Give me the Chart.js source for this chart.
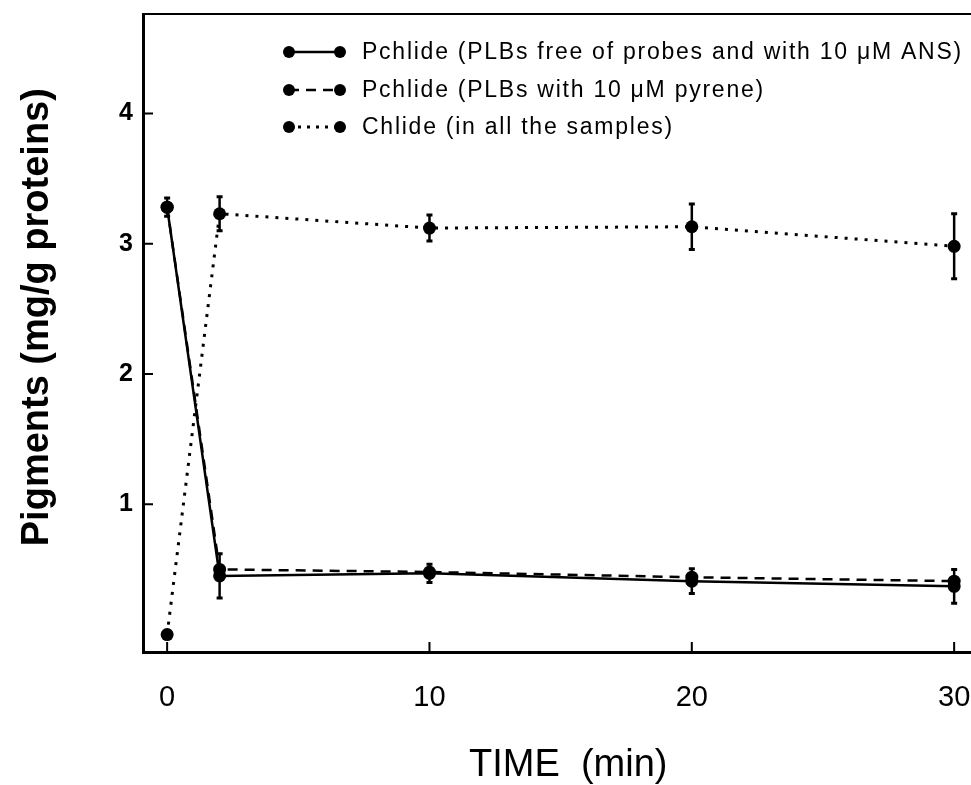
<!DOCTYPE html>
<html>
<head>
<meta charset="utf-8">
<script src="https://cdn.jsdelivr.net/npm/chart.js@4.4.1/dist/chart.umd.min.js"></script>
<style>
  html, body { margin: 0; padding: 0; overflow: hidden; background: #fff; }
  #wrap { width: 1000px; height: 785px; }
</style>
</head>
<body>
<div id="wrap"><canvas id="chart" width="1000" height="785"></canvas></div>
<script>
// time points (min)
const times = [0, 2, 10, 20, 30];

// Pchlide, PLBs free of probes and with ANS (solid)
const pchlideFree = [3.28, 0.45, 0.47, 0.41, 0.37];
const pchlideFreeErr = [0.07, 0.17, 0.07, 0.095, 0.13];

// Pchlide, PLBs with pyrene (dashed)
const pchlidePyrene = [3.28, 0.50, 0.48, 0.44, 0.41];

// Chlide, all samples (dotted)
const chlide = [0.0, 3.23, 3.12, 3.13, 2.98];
const chlideErr = [0, 0.13, 0.10, 0.175, 0.25];

const xTicks = [0, 10, 20, 30];
const yTicks = [1, 2, 3, 4];

const legendLabels = [
    "Pchlide (PLBs free of probes and with 10 \u03BCM ANS)",
    "Pchlide (PLBs with 10 \u03BCM pyrene)",
    "Chlide (in all the samples)"
];

const FONT = "'Liberation Sans', Arial, Helvetica, sans-serif";

function toPoints(values) {
    return times.map((t, i) => ({ x: t, y: values[i] }));
}

function makeSet(label, values, dash, errs) {
    return {
        label: label,
        data: toPoints(values),
        errors: errs,
        borderColor: '#000',
        backgroundColor: '#000',
        borderWidth: dash && dash[0] < 5 ? 3 : 2.5,
        borderDash: dash || [],
        pointRadius: 6.5,
        pointHoverRadius: 6.5,
        pointBackgroundColor: '#000',
        pointBorderWidth: 0,
        tension: 0,
        fill: false
    };
}

// error bars, drawn through the scales
const errorBars = {
    id: 'errorBars',
    afterDatasetsDraw(chart) {
        const ctx = chart.ctx;
        const xs = chart.scales.x, ys = chart.scales.y;
        ctx.save();
        ctx.strokeStyle = '#000';
        chart.data.datasets.forEach(ds => {
            if (!ds.errors) return;
            ds.data.forEach((p, i) => {
                const e = ds.errors[i];
                if (!e) return;
                const px = xs.getPixelForValue(p.x);
                const top = ys.getPixelForValue(p.y + e);
                const bot = ys.getPixelForValue(p.y - e);
                ctx.lineWidth = 2.5;
                ctx.beginPath();
                ctx.moveTo(px, top);
                ctx.lineTo(px, bot);
                ctx.stroke();
                ctx.lineWidth = 3;
                ctx.beginPath();
                ctx.moveTo(px - 3, top);
                ctx.lineTo(px + 3, top);
                ctx.moveTo(px - 3, bot);
                ctx.lineTo(px + 3, bot);
                ctx.stroke();
            });
        });
        ctx.restore();
    }
};

// inward ticks and top frame line
const frame = {
    id: 'frame',
    afterDraw(chart) {
        const ctx = chart.ctx;
        const a = chart.chartArea;
        const xs = chart.scales.x, ys = chart.scales.y;
        ctx.save();
        ctx.strokeStyle = '#000';
        ctx.lineWidth = 2;
        ctx.beginPath();
        ctx.moveTo(a.left - 1, a.top);
        ctx.lineTo(a.right, a.top);
        ctx.stroke();
        ctx.beginPath();
        yTicks.forEach(v => {
            const py = ys.getPixelForValue(v);
            ctx.moveTo(a.left, py);
            ctx.lineTo(a.left + 10, py);
        });
        xTicks.forEach(v => {
            const px = xs.getPixelForValue(v);
            ctx.moveTo(px, a.bottom);
            ctx.lineTo(px, a.bottom - 10);
        });
        ctx.stroke();
        ctx.restore();
    }
};

// legend in the upper part of the plot
const insideLegend = {
    id: 'insideLegend',
    afterDraw(chart) {
        const ctx = chart.ctx;
        const rows = [52, 90, 127];
        const dashes = [[], [10, 7], [3, 6]];
        ctx.save();
        ctx.fillStyle = '#000';
        ctx.strokeStyle = '#000';
        ctx.font = '23px ' + FONT;
        ctx.letterSpacing = '1.75px';
        ctx.textBaseline = 'middle';
        rows.forEach((y, i) => {
            ctx.lineWidth = i === 2 ? 3 : 2.5;
            ctx.setLineDash(dashes[i]);
            ctx.beginPath();
            ctx.moveTo(289, y);
            ctx.lineTo(340, y);
            ctx.stroke();
            ctx.setLineDash([]);
            [289, 340].forEach(cx => {
                ctx.beginPath();
                ctx.arc(cx, y, 6, 0, Math.PI * 2);
                ctx.fill();
            });
            ctx.fillText(legendLabels[i], 362, y + 1);
        });
        ctx.restore();
    }
};

new Chart(document.getElementById('chart'), {
    type: 'line',
    data: {
        datasets: [
            makeSet(legendLabels[0], pchlideFree, null, pchlideFreeErr),
            makeSet(legendLabels[1], pchlidePyrene, [10, 7], null),
            makeSet(legendLabels[2], chlide, [3, 7], chlideErr)
        ]
    },
    options: {
        responsive: false,
        animation: false,
        layout: { padding: { top: 14, right: 6, left: 0, bottom: 0 } },
        plugins: { legend: { display: false }, tooltip: { enabled: false } },
        scales: {
            x: {
                type: 'linear',
                min: -0.92,
                max: 31.5,
                afterBuildTicks: s => { s.ticks = xTicks.map(v => ({ value: v })); },
                afterFit: s => { s.height = 133; s.paddingLeft = 0; s.paddingRight = 0; },
                grid: { display: false, drawTicks: false },
                border: { display: true, color: '#000', width: 3 },
                ticks: { color: '#000', padding: 29, font: { family: FONT, size: 29 } },
                title: {
                    display: true, text: 'TIME  (min)', color: '#000',
                    font: { family: FONT, size: 38, lineHeight: 1 },
                    padding: { top: 0, bottom: 0 }
                }
            },
            y: {
                type: 'linear',
                min: -0.134,
                max: 4.763,
                afterBuildTicks: s => { s.ticks = yTicks.map(v => ({ value: v })); },
                afterFit: s => { s.width = 143; s.paddingTop = 0; s.paddingBottom = 0; },
                grid: { display: false, drawTicks: false },
                border: { display: true, color: '#000', width: 3 },
                ticks: { color: '#000', padding: 10, font: { family: FONT, size: 25, weight: 'bold' } },
                title: {
                    display: true, text: '   Pigments (mg/g proteins)', color: '#000',
                    font: { family: FONT, size: 38, weight: 'bold', lineHeight: 1 },
                    padding: { top: 19, bottom: 0 }
                }
            }
        }
    },
    plugins: [errorBars, frame, insideLegend]
});
</script>
</body>
</html>
